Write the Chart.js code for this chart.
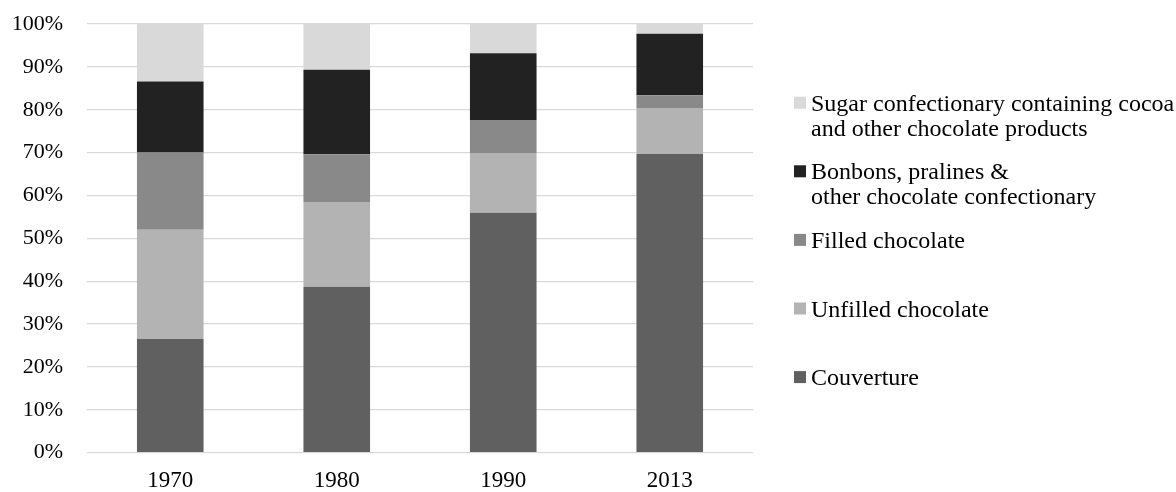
<!DOCTYPE html>
<html>
<head>
<meta charset="utf-8">
<script src="https://cdn.jsdelivr.net/npm/chart.js@4/dist/chart.umd.min.js"></script>
<style>
  html, body { margin: 0; padding: 0; background: #fff; }
  #wrap { width: 1176px; height: 492px; }
</style>
</head>
<body>
<div id="wrap"><canvas id="chart" width="1176" height="492"></canvas></div>
<script>
const years = ["1970", "1980", "1990", "2013"];
const couverture = [26.5, 38.7, 56.0, 69.7];
const unfilled = [25.5, 19.8, 13.9, 10.7];
const filled = [18.0, 11.1, 7.7, 3.0];
const bonbons = [16.6, 19.7, 15.6, 14.3];
const sugar = [13.4, 10.7, 6.8, 2.3];
const yTicks = [0, 10, 20, 30, 40, 50, 60, 70, 80, 90, 100];

const seriesNames = [
  ["Couverture"],
  ["Unfilled chocolate"],
  ["Filled chocolate"],
  ["Bonbons, pralines &", "other chocolate confectionary"],
  ["Sugar confectionary containing cocoa", "and other chocolate products"],
];
const seriesColors = ["#606060", "#b3b3b3", "#898989", "#222222", "#d9d9d9"];
const seriesValues = [couverture, unfilled, filled, bonbons, sugar];

const FONT = "'Liberation Serif', 'Times New Roman', serif";

// legend drawn by hand, top item = last series
const sideLegend = {
  id: "sideLegend",
  afterDraw(chart) {
    const ctx = chart.ctx;
    ctx.save();
    ctx.font = "24px " + FONT;
    ctx.textBaseline = "alphabetic";
    ctx.textAlign = "left";
    const n = chart.data.datasets.length;
    for (let k = 0; k < n; k++) {
      const ds = chart.data.datasets[n - 1 - k];
      const cy = 102.7 + k * 68.6;
      ctx.fillStyle = ds.backgroundColor;
      ctx.fillRect(794, cy - 6, 12, 12);
      ctx.fillStyle = "#000";
      ds.legendLines.forEach((line, j) => {
        ctx.fillText(line, 811, cy + 8 + j * 25);
      });
    }
    ctx.restore();
  },
};

new Chart(document.getElementById("chart"), {
  type: "bar",
  data: {
    labels: years,
    datasets: seriesValues.map((vals, i) => ({
      label: seriesNames[i].join(" "),
      legendLines: seriesNames[i],
      data: vals,
      backgroundColor: seriesColors[i],
      borderWidth: 0,
      barPercentage: 0.4,
      categoryPercentage: 1,
    })),
  },
  options: {
    responsive: false,
    animation: false,
    layout: { padding: { top: 24, right: 423, bottom: 0, left: 0 } },
    plugins: { legend: { display: false }, tooltip: { enabled: false } },
    scales: {
      x: {
        stacked: true,
        afterFit(scale) {
          scale.height = 39.3;
          scale.paddingLeft = 0;
          scale.paddingRight = 0;
        },
        grid: { display: false, drawTicks: false },
        border: { display: false },
        ticks: { color: "#000", font: { family: FONT, size: 23 }, padding: 14 },
      },
      y: {
        stacked: true,
        min: 0,
        max: 100,
        afterBuildTicks(scale) {
          scale.ticks = yTicks.map((v) => ({ value: v }));
        },
        afterFit(scale) {
          scale.width = 87;
          scale.paddingTop = 0;
          scale.paddingBottom = 0;
        },
        grid: { color: "#d9d9d9", lineWidth: 1.3, drawTicks: false },
        border: { display: false },
        ticks: {
          color: "#000",
          font: { family: FONT, size: 22 },
          padding: 24,
          callback: (v) => v + "%",
        },
      },
    },
  },
  plugins: [sideLegend],
});
</script>
</body>
</html>
